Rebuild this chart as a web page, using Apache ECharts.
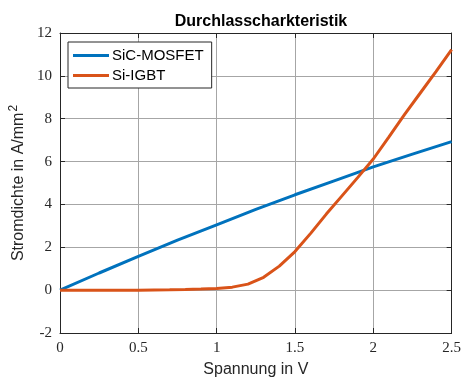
<!DOCTYPE html>
<html>
<head>
<meta charset="utf-8">
<script src="https://cdn.jsdelivr.net/npm/echarts@6/dist/echarts.min.js"></script>
<style>
    html, body { margin: 0; padding: 0; background: #fff; }
    #chart { width: 464px; height: 383px; }
</style>
</head>
<body>
<div id="chart"></div>
<script>
const sicVoltage = [0, 0.25, 0.5, 0.75, 1.0, 1.25, 1.5, 1.75, 2.0, 2.25, 2.5]
const sicCurrent = [0, 0.8, 1.58, 2.33, 3.05, 3.77, 4.45, 5.1, 5.75, 6.35, 6.93]

const igbtVoltage = [0, 0.1, 0.2, 0.3, 0.4, 0.5, 0.6, 0.7, 0.8, 0.9, 1.0, 1.1, 1.2, 1.3,
    1.4, 1.5, 1.6, 1.7, 1.8, 1.9, 2.0, 2.1, 2.2, 2.3, 2.4, 2.5]
const igbtCurrent = [0, 0, 0, 0, 0, 0, 0.01, 0.015, 0.03, 0.05, 0.08, 0.14, 0.28, 0.6,
    1.12, 1.8, 2.65, 3.55, 4.4, 5.25, 6.12, 7.15, 8.2, 9.2, 10.2, 11.22]

const xTicks = { min: 0, max: 2.5, interval: 0.5 }
const yTicks = { min: -2, max: 12, interval: 2 }

const axisColor = '#262626'
const tickFont = { fontFamily: 'Liberation Serif', fontSize: 15, color: '#262626' }

const pairs = (xs, ys) => xs.map((x, i) => [x, ys[i]])

const chart = echarts.init(document.getElementById('chart'))
chart.setOption({
    animation: false,
    backgroundColor: '#fff',
    title: {
        text: 'Durchlasscharkteristik',
        left: 256,
        textAlign: 'center',
        top: 9,
        textStyle: {
            fontFamily: 'Liberation Sans',
            fontWeight: 'bold',
            fontSize: 16,
            color: '#000'
        }
    },
    legend: {
        orient: 'vertical',
        left: 68,
        top: 42,
        padding: [6, 8, 5, 5],
        itemGap: 5,
        itemWidth: 36,
        itemHeight: 3,
        icon: 'rect',
        backgroundColor: '#fff',
        borderColor: axisColor,
        borderWidth: 1,
        textStyle: { fontFamily: 'Liberation Sans', fontSize: 15, color: '#000', padding: [0, 0, 0, -2] },
        data: ['SiC-MOSFET', 'Si-IGBT']
    },
    grid: { left: 60, right: 12, top: 33, bottom: 47 },
    xAxis: [
        {
            type: 'value',
            min: xTicks.min,
            max: xTicks.max,
            interval: xTicks.interval,
            name: 'Spannung in V',
            nameLocation: 'middle',
            nameGap: 29,
            nameTextStyle: { fontFamily: 'Liberation Sans', fontSize: 16, color: '#262626' },
            axisLine: { show: true, onZero: false, lineStyle: { color: axisColor } },
            axisTick: { show: true, inside: true, length: 5, lineStyle: { color: axisColor } },
            axisLabel: { ...tickFont, margin: 8 },
            splitLine: { show: true, lineStyle: { color: '#a6a6a6', width: 1 } }
        },
        {
            type: 'value',
            position: 'top',
            min: xTicks.min,
            max: xTicks.max,
            interval: xTicks.interval,
            axisLine: { show: true, onZero: false, lineStyle: { color: axisColor } },
            axisTick: { show: true, inside: true, length: 5, lineStyle: { color: axisColor } },
            axisLabel: { show: false },
            splitLine: { show: false }
        }
    ],
    yAxis: [
        {
            type: 'value',
            min: yTicks.min,
            max: yTicks.max,
            interval: yTicks.interval,
            name: '{a|Stromdichte in A/mm}{b|2}',
            nameLocation: 'middle',
            nameGap: 30,
            nameTextStyle: {
                rich: {
                    a: { fontFamily: 'Liberation Sans', fontSize: 16, color: '#262626', lineHeight: 20 },
                    b: { fontFamily: 'Liberation Sans', fontSize: 12, color: '#262626', verticalAlign: 'top', padding: [0, 0, 8, 1] }
                }
            },
            axisLine: { show: true, onZero: false, lineStyle: { color: axisColor } },
            axisTick: { show: true, inside: true, length: 5, lineStyle: { color: axisColor } },
            axisLabel: { ...tickFont, margin: 8 },
            splitLine: { show: true, lineStyle: { color: '#a6a6a6', width: 1 } }
        },
        {
            type: 'value',
            position: 'right',
            min: yTicks.min,
            max: yTicks.max,
            interval: yTicks.interval,
            axisLine: { show: true, onZero: false, lineStyle: { color: axisColor } },
            axisTick: { show: true, inside: true, length: 5, lineStyle: { color: axisColor } },
            axisLabel: { show: false },
            splitLine: { show: false }
        }
    ],
    series: [
        {
            name: 'SiC-MOSFET',
            type: 'line',
            data: pairs(sicVoltage, sicCurrent),
            showSymbol: false,
            color: '#0072BD',
            lineStyle: { width: 3, color: '#0072BD' },
            z: 3
        },
        {
            name: 'Si-IGBT',
            type: 'line',
            data: pairs(igbtVoltage, igbtCurrent),
            showSymbol: false,
            color: '#D95319',
            lineStyle: { width: 3, color: '#D95319' },
            z: 4
        }
    ]
})
</script>
</body>
</html>
